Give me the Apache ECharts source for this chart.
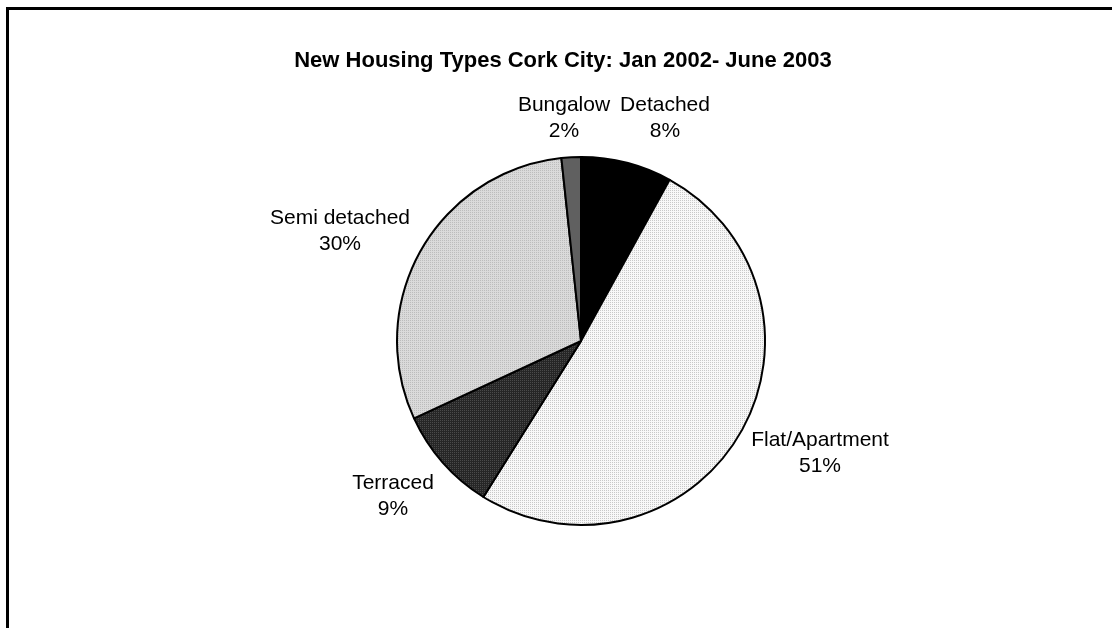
<!DOCTYPE html>
<html style="height: 100%">
<head>
    <meta charset="UTF-8">
    <script src="https://cdn.jsdelivr.net/npm/echarts@6/dist/echarts.min.js"></script>
</head>
<body style="margin: 0;background: #FFF;height: 100%;overflow: hidden;">
<div id="chart-pie" style="width: 1112px;height: 628px;"></div>

<script>
    // slice order: clockwise from 12 o'clock
    var categories = ['Detached', 'Flat/Apartment', 'Terraced', 'Semi detached', 'Bungalow'];
    var shares = [8.0, 50.9, 9.2, 30.2, 1.7];

    // label block centres (Excel "best fit" spots)
    var labelSpots = [[665, 118], [820, 453], [393, 496], [340, 231], [564, 118]];

    // small dotted tiles, like the old excel fills
    function dots(bg, dot) {
        var c = document.createElement('canvas');
        c.width = 2;
        c.height = 2;
        var ctx = c.getContext('2d');
        ctx.fillStyle = bg;
        ctx.fillRect(0, 0, 2, 2);
        ctx.fillStyle = dot;
        ctx.fillRect(0, 0, 1, 1);
        return {image: c, repeat: 'repeat'};
    }

    var fills = [
        '#000000',
        dots('#f8f8f8', '#c8c8c8'),
        dots('#262626', '#4a4a4a'),
        dots('#dadada', '#bcbcbc'),
        '#606060'
    ];

    var dom = document.getElementById("chart-pie");
    var myChart = echarts.init(dom);

    var data = [];
    for (var i = 0; i < categories.length; i++) {
        data.push({name: categories[i], value: shares[i], itemStyle: {color: fills[i]}});
    }

    var option = {
        animation: false,
        title: {
            text: 'New Housing Types Cork City: Jan 2002- June 2003',
            left: 558,
            top: 45,
            textAlign: 'center',
            textStyle: {
                fontFamily: "'Liberation Sans', Arial, sans-serif",
                fontWeight: 'bold',
                fontSize: 22,
                color: '#000'
            }
        },
        graphic: [
            {
                type: 'rect',
                shape: {x: 7.5, y: 8.5, width: 1300, height: 800},
                style: {fill: null, stroke: '#000', lineWidth: 3},
                silent: true
            }
        ],
        series: [
            {
                type: 'pie',
                center: [581, 341],
                radius: 184,
                startAngle: 90,
                clockwise: true,
                percentPrecision: 0,
                itemStyle: {borderColor: '#000', borderWidth: 2},
                label: {
                    show: true,
                    position: 'outside',
                    formatter: '{b}\n{d}%',
                    fontFamily: "'Liberation Sans', Arial, sans-serif",
                    fontSize: 21,
                    lineHeight: 26,
                    color: '#000',
                    align: 'center'
                },
                labelLine: {show: false},
                labelLayout: function (params) {
                    var p = labelSpots[params.dataIndex];
                    return {x: p[0], y: p[1], align: 'center', verticalAlign: 'middle'};
                },
                emphasis: {disabled: true},
                data: data
            }
        ]
    };

    myChart.setOption(option, true);
</script>
</body>
</html>
